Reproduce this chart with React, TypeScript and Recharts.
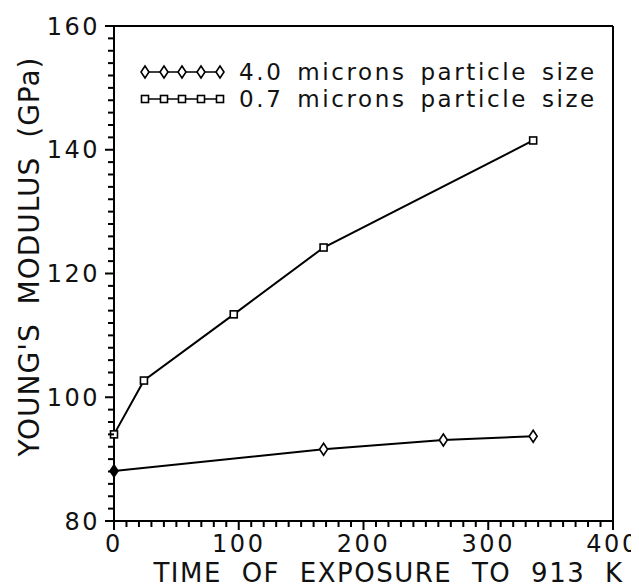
import React from 'react';
import { LineChart, Line, XAxis, YAxis, ReferenceLine, Legend } from 'recharts';

// ---- data ----
const seriesNames = ['4.0 microns particle size', '0.7 microns particle size'];
const timeCoarse = [0, 168, 264, 336];
const modulusCoarse = [88.1, 91.6, 93.1, 93.7];
const timeFine = [0, 24, 96, 168, 336];
const modulusFine = [94.0, 102.7, 113.4, 124.2, 141.5];
const xMajorTicks = [0, 100, 200, 300, 400];
const yMajorTicks = [80, 100, 120, 140, 160];
const xTitle = 'TIME OF EXPOSURE TO 913 K';
const yTitle = "YOUNG'S MODULUS (GPa)";

const coarseData = timeCoarse.map((t, i) => ({ t, v: modulusCoarse[i] }));
const fineData = timeFine.map((t, i) => ({ t, v: modulusFine[i] }));

const X_DOMAIN: [number, number] = [0, 400];
const Y_DOMAIN: [number, number] = [80, 160];
const xAllTicks: number[] = [];
for (let v = 0; v <= 400; v += 10) xAllTicks.push(v);
const yAllTicks: number[] = [];
for (let v = 80; v <= 160; v += 2) yAllTicks.push(v);

const FONT = '"DejaVu Sans", sans-serif';
const INK = '#111';
const TICK_COLOR = '#000';

const Diamond = ({ cx, cy, filled }: any) => (
  <path
    d={`M${cx},${cy - 6} L${cx + 4},${cy} L${cx},${cy + 6} L${cx - 4},${cy} Z`}
    fill={filled ? '#000' : '#fff'}
    stroke="#000"
    strokeWidth={1.6}
  />
);
const Square = ({ cx, cy }: any) => (
  <rect x={cx - 3.5} y={cy - 3.5} width={7} height={7} fill="#fff" stroke="#000" strokeWidth={1.6} />
);

const XTick = (props: any) => {
  const { x, y, payload } = props;
  const major = xMajorTicks.includes(payload.value);
  const len = major ? 9 : 6;
  return (
    <g>
      <rect x={x - 1} y={y} width={2} height={len} fill={TICK_COLOR} />
      {major && (
        <text x={x} y={y + 31} textAnchor="middle" fontFamily={FONT} fontSize={24} letterSpacing={2.5} fill={INK} stroke="none">
          {payload.value}
        </text>
      )}
    </g>
  );
};

const YTick = (props: any) => {
  const { x, y, payload } = props;
  const major = yMajorTicks.includes(payload.value);
  const len = major ? 9 : 6;
  return (
    <g>
      <rect x={x - len} y={y - 1} width={len} height={2} fill={TICK_COLOR} />
      {major && (
        <text x={x - 14} y={y} dy="0.36em" textAnchor="end" fontFamily={FONT} fontSize={24} letterSpacing={2.5} fill={INK} stroke="none">
          {payload.value}
        </text>
      )}
    </g>
  );
};

const XTitle = (props: any) => {
  const { viewBox } = props;
  return (
    <text
      x={viewBox.x + viewBox.width / 2 + 25}
      y={viewBox.y + 61}
      textAnchor="middle"
      fontFamily={FONT}
      fontSize={26}
      letterSpacing={1.5}
      style={{ wordSpacing: 10 }}
      fill={INK}
    >
      {xTitle}
    </text>
  );
};

const YTitle = (props: any) => {
  const { viewBox } = props;
  const cx = 21;
  const cy = viewBox.y + viewBox.height / 2 - 17;
  return (
    <text
      x={cx}
      y={cy}
      transform={`rotate(-90 ${cx} ${cy})`}
      textAnchor="middle"
      dominantBaseline="central"
      fontFamily={FONT}
      fontSize={28}
      letterSpacing={1}
      style={{ wordSpacing: 9 }}
      fill={INK}
    >
      {yTitle}
    </text>
  );
};

const LegendContent = () => {
  const rows = [0, 1];
  const markerX = [15, 34, 52, 71, 90];
  return (
    <svg width={480} height={60} style={{ display: 'block', overflow: 'visible' }}>
      {rows.map((r) => {
        const y = 17 + r * 27;
        return (
          <g key={r}>
            <line x1={15} x2={90} y1={y} y2={y} stroke="#000" strokeWidth={1.6} />
            {markerX.map((mx) =>
              r === 0 ? <Diamond key={mx} cx={mx} cy={y} /> : <Square key={mx} cx={mx} cy={y} />
            )}
            <text
              x={109}
              y={y}
              dy="0.36em"
              fontFamily={FONT}
              fontSize={23}
              letterSpacing={2.6}
              style={{ wordSpacing: 4 }}
              fill={INK}
            >
              {seriesNames[r]}
            </text>
          </g>
        );
      })}
    </svg>
  );
};

export default function App() {
  return (
    <div style={{ width: 631, height: 580 }}>
      <LineChart width={631} height={580} margin={{ top: 18, right: 26, bottom: 0, left: 0 }}>
        <XAxis
          dataKey="t"
          type="number"
          domain={X_DOMAIN}
          ticks={xAllTicks}
          interval={0}
          tick={<XTick />}
          tickLine={false}
          tickSize={0}
          tickMargin={0}
          axisLine={{ stroke: '#000', strokeWidth: 2 }}
          height={67}
          allowDuplicatedCategory={false}
          label={<XTitle />}
        />
        <YAxis
          type="number"
          domain={Y_DOMAIN}
          ticks={yAllTicks}
          interval={0}
          tick={<YTick />}
          tickLine={false}
          tickSize={0}
          tickMargin={0}
          axisLine={{ stroke: '#000', strokeWidth: 2 }}
          width={106}
          label={<YTitle />}
        />
        <ReferenceLine y={160} stroke="#000" strokeWidth={2} />
        <ReferenceLine x={400} stroke="#000" strokeWidth={2} />
        <Legend
          layout="vertical"
          align="center"
          verticalAlign="middle"
          wrapperStyle={{ position: 'absolute', left: 122, top: 47, width: 480 }}
          content={<LegendContent />}
        />
        <Line
          data={coarseData}
          dataKey="v"
          name={seriesNames[0]}
          stroke="#000"
          strokeWidth={2}
          isAnimationActive={false}
          dot={(p: any) => <Diamond key={`c-${p.index}`} cx={p.cx} cy={p.cy} filled={p.index === 0} />}
          activeDot={false}
        />
        <Line
          data={fineData}
          dataKey="v"
          name={seriesNames[1]}
          stroke="#000"
          strokeWidth={2}
          isAnimationActive={false}
          dot={(p: any) => <Square key={`f-${p.index}`} cx={p.cx} cy={p.cy} />}
          activeDot={false}
        />
      </LineChart>
    </div>
  );
}
